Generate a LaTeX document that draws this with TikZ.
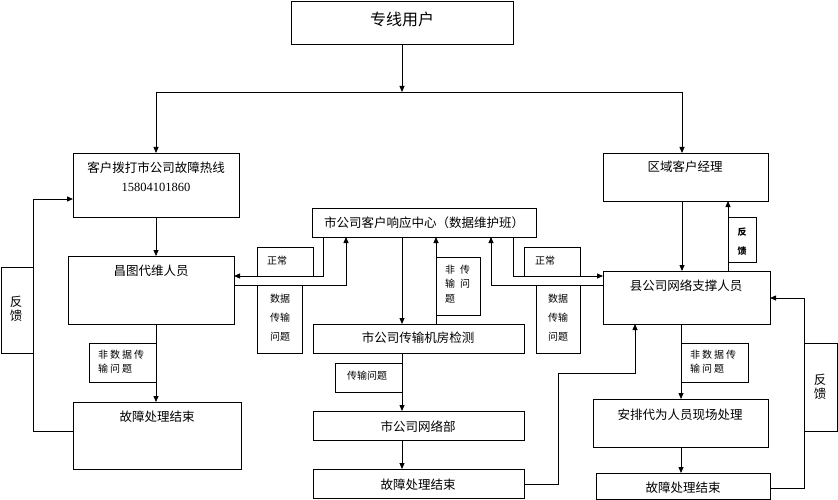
\documentclass[tikz,border=0pt]{standalone}
\usepackage{fontspec}
\setmainfont{Liberation Serif}
\newfontfamily\cjk{Noto Sans CJK SC}
\usetikzlibrary{arrows.meta}
\newcommand\boxat[5]{\node[box, minimum width={#4-#2}, minimum height={#5-#3}] (#1) at (#2,#3) {};}
\newcommand\gp{\hspace{2pt}}
\begin{document}
\begin{tikzpicture}[x=1pt,y=-1pt,
  box/.style={draw, line width=0.8pt, inner sep=0pt, outer sep=0pt, anchor=north west},
  txt/.style={font=\cjk\fontsize{12.5}{15}\selectfont, inner sep=0pt, align=center},
  big/.style={font=\cjk\fontsize{16}{18}\selectfont, inner sep=0pt},
  small/.style={font=\cjk\fontsize{10}{14}\selectfont, inner sep=0pt},
  tiny/.style={font=\cjk\bfseries\fontsize{9}{19}\selectfont, inner sep=0pt, align=center},
  arr/.style={-{Triangle[length=6pt,width=5pt]}, line width=0.8pt},
  ln/.style={line width=0.8pt}]
\useasboundingbox (0,0) rectangle (838,500);
% main boxes
\boxat{user}{291}{1}{513}{44}
\boxat{hotline}{73}{153}{239}{217}
\boxat{region}{603}{153}{768}{201}
\boxat{center}{312}{208}{536}{237}
\boxat{changtu}{68}{256}{234}{324}
\boxat{county}{603}{271}{770}{324}
\boxat{trans}{313}{324}{524}{353}
\boxat{netdep}{313}{411}{524}{440}
\boxat{endC}{313}{469}{524}{498}
\boxat{endL}{73}{402}{241}{469}
\boxat{arrange}{593}{399}{768}{447}
\boxat{endR}{596}{473}{770}{499}
% label boxes
\boxat{fbL}{1}{267}{33}{353}
\boxat{nondataL}{89}{343}{156}{382}
\boxat{normalL}{257}{247}{313}{276}
\boxat{dataL}{257}{285}{302}{353}
\boxat{nontrans}{436}{257}{480}{315}
\boxat{normalR}{524}{247}{580}{276}
\boxat{dataR}{536}{285}{580}{353}
\boxat{transq}{335}{363}{402}{392}
\boxat{fbS}{728}{217}{756}{262}
\boxat{nondataR}{681}{343}{748}{382}
\boxat{fbR}{804}{343}{837}{431}
% texts
\node[big] (userT) at (402,19) {专线用户};
\node[txt] (hotT1) at (156,168) {客户拨打市公司故障热线};
\node[inner sep=0pt, font=\fontsize{12.5}{15}\selectfont] (hotT2) at (156,187) {15804101860};
\node[txt] (regionT) at (685,167) {区域客户经理};
\node[txt] (centerT) at (424,223) {市公司客户响应中心（数据维护班）};
\node[txt] (changtuT) at (151,271) {昌图代维人员};
\node[txt] (countyT) at (686,286) {县公司网络支撑人员};
\node[txt] (transT) at (418,338) {市公司传输机房检测};
\node[txt] (netdepT) at (418,427) {市公司网络部};
\node[txt] (endCT) at (418,485) {故障处理结束};
\node[txt] (endLT) at (157,417) {故障处理结束};
\node[txt] (arrangeT) at (680,415) {安排代为人员现场处理};
\node[txt] (endRT) at (683,488) {故障处理结束};
\node[txt, font=\cjk\fontsize{12.5}{14}\selectfont] (fbLT) at (16,309) {反\\馈};
\node[txt, font=\cjk\fontsize{12.5}{14}\selectfont] (fbRT) at (820,387) {反\\馈};
\node[small, align=left, anchor=west] (nondataLT) at (98,362) {非\gp 数\gp 据\gp 传\\输\gp 问\gp 题};
\node[small, align=left, anchor=west] (nondataRT) at (690,362) {非\gp 数\gp 据\gp 传\\输\gp 问\gp 题};
\node[small] (normalLT) at (277,261) {正常};
\node[small] (normalRT) at (545,261) {正常};
\node[small, align=center, font=\cjk\fontsize{10}{19}\selectfont] (dataLT) at (280,318) {数据\\传输\\问题};
\node[small, align=center, font=\cjk\fontsize{10}{19}\selectfont] (dataRT) at (558,318) {数据\\传输\\问题};
\node[small, align=left, anchor=west, font=\cjk\fontsize{10}{14.5}\selectfont] (nontransT) at (445,284) {非\hspace{5pt}传\\输\hspace{5pt}问\\题};
\node[small] (transqT) at (367,376) {传输问题};
\node[tiny] (fbST) at (742,242) {反\\馈};
% connectors
\coordinate (jL) at (156,92);
\coordinate (jR) at (682,92);
\draw[arr] (user.south) -- (user.south |- jL);
\draw[ln] (jL) -- (jR);
\draw[arr] (jL) -- (hotline.north);
\draw[arr] (jR) -- (jR |- region.north);
\draw[arr] (hotline.south) -- (hotline.south |- changtu.north);
\draw[arr] (hotline.south |- changtu.south) -- (hotline.south |- endL.north);
\draw[arr] (endL.west |- 0,431) -- (33,431) -- (33,199) -- (hotline.west |- 0,199);
\draw[arr] (center.south -| 323,0) -- (323,276) -- (changtu.east |- 0,276);
\draw[arr] (changtu.east |- 0,285) -- (346,285) -- (center.south -| 346,0);
\draw[arr] (center.south -| 402,0) -- (trans.north -| 402,0);
\draw[arr] (trans.north -| 436,0) -- (center.south -| 436,0);
\draw[arr] (county.west |- 0,285) -- (491,285) -- (center.south -| 491,0);
\draw[arr] (center.south -| 513,0) -- (513,276) -- (county.west |- 0,276);
\draw[arr] (region.south -| jR) -- (county.north -| jR);
\draw[arr] (county.north -| 728,0) -- (region.south -| 728,0);
\draw[arr] (trans.south -| 402,0) -- (netdep.north -| 402,0);
\draw[arr] (netdep.south -| 402,0) -- (endC.north -| 402,0);
\draw[arr] (endC.east |- 0,484) -- (558,484) -- (558,373) -- (635,373) -- (county.south -| 635,0);
\draw[arr] (county.south -| 681,0) -- (arrange.north -| 681,0);
\draw[arr] (arrange.south -| 681,0) -- (endR.north -| 681,0);
\draw[arr] (endR.east |- 0,488) -- (804,488) -- (804,298) -- (county.east |- 0,298);
\end{tikzpicture}
\end{document}
